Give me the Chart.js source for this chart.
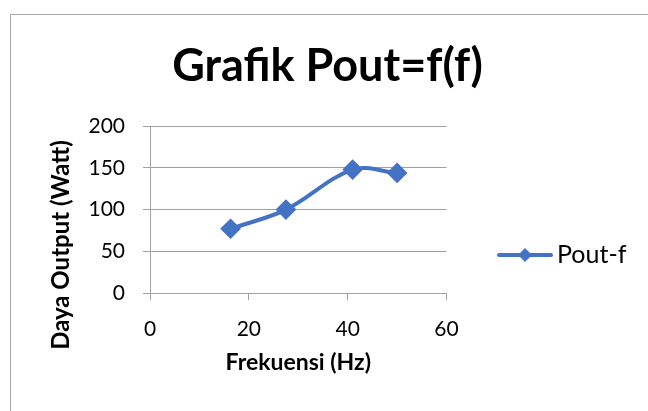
<!DOCTYPE html>
<html>
<head>
<meta charset="utf-8">
<script src="https://cdn.jsdelivr.net/npm/chart.js@4.4.1/dist/chart.umd.min.js"></script>
<style>
  html, body { margin: 0; padding: 0; background: #fff; }
  #wrap { width: 648px; height: 411px; position: relative; overflow: hidden; }
  #frame { position: absolute; left: 10px; top: 14px; width: 700px; height: 500px; border-left: 1px solid #a6a6a6; border-top: 1px solid #a6a6a6; pointer-events: none; }
</style>
</head>
<body>
<div id="wrap"><canvas id="chart" width="648" height="411"></canvas><div id="frame"></div></div>
<script>
// data
let frekuensi = [16.3, 27.5, 41.0, 50.0];
let dayaOutput = [77, 100, 148, 144];
let seriesName = 'Pout-f';
let xTicks = [0, 20, 40, 60];
let yTicks = [0, 50, 100, 150, 200];
let yTitle = 'Daya Output (Watt)';

let blue = '#4472C4';
let gray = '#a0a0a0';
let fontName = 'Lato, "Open Sans", sans-serif';
let padLeft = 18.5;

// line + diamond used as the legend symbol
let legendIcon = document.createElement('canvas');
legendIcon.width = 56;
legendIcon.height = 16;
let ictx = legendIcon.getContext('2d');
ictx.strokeStyle = blue;
ictx.lineWidth = 4;
ictx.lineCap = 'round';
ictx.beginPath();
ictx.moveTo(2, 8);
ictx.lineTo(54, 8);
ictx.stroke();
ictx.fillStyle = blue;
ictx.beginPath();
ictx.moveTo(28, 1);
ictx.lineTo(35, 8);
ictx.lineTo(28, 15);
ictx.lineTo(21, 8);
ictx.closePath();
ictx.fill();

// excel puts the y axis title a bit lower than the axis middle
let yTitlePlugin = {
    id: 'yTitle',
    afterDraw: (c) => {
        let ctx = c.ctx;
        ctx.save();
        ctx.setTransform(1, 0, 0, 1, 0, 0);
        ctx.translate(61, 245);
        ctx.rotate(-Math.PI / 2);
        ctx.fillStyle = '#000';
        ctx.font = 'bold 24px ' + fontName;
        ctx.textAlign = 'center';
        ctx.textBaseline = 'middle';
        ctx.fillText(yTitle, 0, 0);
        ctx.restore();
    }
};

let points = frekuensi.map((f, i) => ({ x: f, y: dayaOutput[i] }));

let chart = document.getElementById('chart');

let myChart = new Chart(chart, {
    type: 'scatter',
    data: {
        datasets: [{
            label: seriesName,
            data: points,
            showLine: true,
            borderColor: blue,
            backgroundColor: blue,
            borderWidth: 4,
            tension: 0.35,
            pointStyle: 'rectRot',
            pointRadius: 7.5,
            pointHoverRadius: 7.5
        }]
    },
    plugins: [yTitlePlugin],
    options: {
        responsive: false,
        animation: false,
        layout: {
            padding: { left: padLeft, right: 11.5, top: 0, bottom: 0 }
        },
        plugins: {
            title: {
                display: true,
                text: 'Grafik Pout=f(f)',
                color: '#000',
                font: { family: fontName, size: 45, weight: 'bold' },
                padding: { top: 39, bottom: 33.2 }
            },
            legend: {
                position: 'right',
                align: 'start',
                maxWidth: 300,
                title: {
                    display: true,
                    text: '',
                    font: { size: 10 },
                    padding: { top: 0, bottom: 171.5 }
                },
                labels: {
                    color: '#000',
                    font: { family: fontName, size: 25 },
                    usePointStyle: true,
                    pointStyleWidth: 39,
                    padding: 59,
                    generateLabels: (c) => [{
                        text: seriesName,
                        fontColor: '#000',
                        pointStyle: legendIcon,
                        fillStyle: blue,
                        strokeStyle: blue,
                        lineWidth: 0,
                        hidden: false,
                        datasetIndex: 0
                    }]
                }
            },
            tooltip: { enabled: false }
        },
        scales: {
            x: {
                type: 'linear',
                min: xTicks[0],
                max: xTicks[xTicks.length - 1],
                afterBuildTicks: (axis) => { axis.ticks = xTicks.map(v => ({ value: v })); },
                afterFit: (axis) => { axis.height = 118; },
                ticks: {
                    color: '#000',
                    font: { family: fontName, size: 21 },
                    padding: 17
                },
                grid: {
                    drawOnChartArea: false,
                    tickLength: 7,
                    color: gray
                },
                border: { color: gray, width: 1 },
                title: {
                    display: true,
                    text: 'Frekuensi (Hz)',
                    color: '#000',
                    font: { family: fontName, size: 23, weight: 'bold' },
                    padding: { top: 0, bottom: 35 }
                }
            },
            y: {
                min: yTicks[0],
                max: yTicks[yTicks.length - 1],
                afterBuildTicks: (axis) => { axis.ticks = yTicks.map(v => ({ value: v })); },
                afterFit: (axis) => { axis.width = 150 - padLeft; },
                ticks: {
                    color: '#000',
                    font: { family: fontName, size: 21 },
                    padding: 18
                },
                grid: {
                    color: gray,
                    tickLength: 7
                },
                border: { color: gray, width: 1 }
            }
        }
    }
});
</script>
</body>
</html>
